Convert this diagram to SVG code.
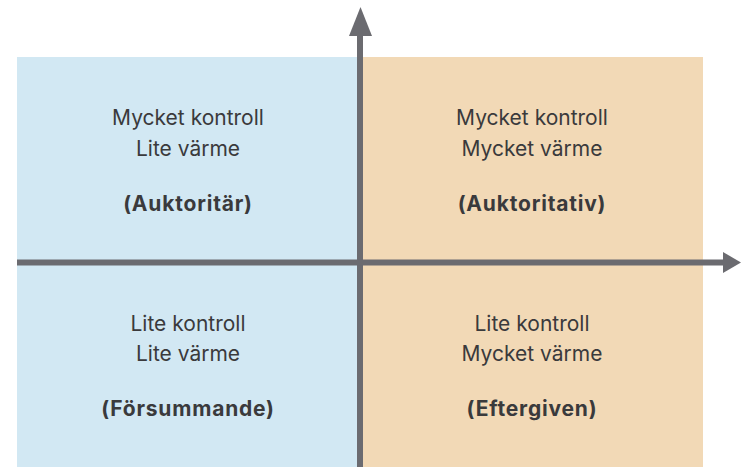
<svg xmlns="http://www.w3.org/2000/svg" width="741" height="467" viewBox="0 0 741 467">
<style>
.t{font-family:"Inter","Liberation Sans",sans-serif;font-size:21px;fill:#3a3a3c;text-anchor:middle}
.b{font-weight:bold;letter-spacing:0.8px}
.ax{stroke:#6b6b70;stroke-width:6;fill:none}
</style>
<rect width="741" height="467" fill="#ffffff"/>
<g id="q-auktoritar"><rect x="17" y="57" width="341" height="410" fill="#d2e8f3"/>
<text class="t" x="188" y="125">Mycket kontroll</text><text class="t" x="188" y="156">Lite värme</text><text class="t b" x="188" y="211">(Auktoritär)</text></g>
<g id="q-auktoritativ"><rect x="362" y="57" width="341" height="410" fill="#f2d9b6"/>
<text class="t" x="532" y="125">Mycket kontroll</text><text class="t" x="532" y="156">Mycket värme</text><text class="t b" x="532" y="211">(Auktoritativ)</text></g>
<g id="q-forsummande">
<text class="t" x="188" y="331">Lite kontroll</text><text class="t" x="188" y="361">Lite värme</text><text class="t b" x="188" y="416">(Försummande)</text></g>
<g id="q-eftergiven">
<text class="t" x="532" y="331">Lite kontroll</text><text class="t" x="532" y="361">Mycket värme</text><text class="t b" x="532" y="416">(Eftergiven)</text></g>
<g id="axes">
<line class="ax" x1="360" y1="467" x2="360" y2="33"/>
<polygon points="349,36 360.5,7 372,36" fill="#6b6b70"/>
<line class="ax" x1="17" y1="262.5" x2="725" y2="262.5"/>
<polygon points="723,252 741,262.5 723,273" fill="#6b6b70"/>
</g>
</svg>
